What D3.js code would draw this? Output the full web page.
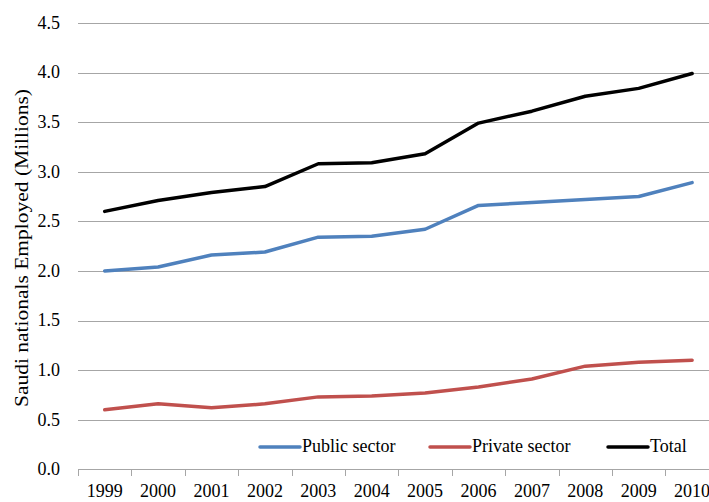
<!DOCTYPE html>
<html>
<head>
<meta charset="utf-8">
<script src="https://cdn.jsdelivr.net/npm/d3@7"></script>
<style>
  html, body { margin: 0; padding: 0; background: #fff; }
  svg { display: block; }
  text { font-family: "Liberation Serif", "DejaVu Serif", serif; fill: #000; }
</style>
</head>
<body>
<svg id="chart" width="709" height="502"></svg>
<script>
// Saudi nationals employed, millions
const years = ["1999","2000","2001","2002","2003","2004","2005","2006","2007","2008","2009","2010"];
const publicSector  = [2.00, 2.04, 2.16, 2.19, 2.34, 2.35, 2.42, 2.66, 2.69, 2.72, 2.75, 2.89];
const privateSector = [0.60, 0.66, 0.62, 0.66, 0.73, 0.74, 0.77, 0.83, 0.91, 1.04, 1.08, 1.10];
const total         = [2.60, 2.71, 2.79, 2.85, 3.08, 3.09, 3.18, 3.49, 3.61, 3.76, 3.84, 3.99];
const yTicks = [0, 0.5, 1.0, 1.5, 2.0, 2.5, 3.0, 3.5, 4.0, 4.5];
const seriesNames = ["Public sector", "Private sector", "Total"];
const seriesColors = ["#4F81BD", "#C0504D", "#000000"];

const series = [publicSector, privateSector, total].map((vals, i) => ({
  name: seriesNames[i], color: seriesColors[i], values: vals
}));

const svg = d3.select("#chart");
const plotLeft = 78, plotRight = 718.8, plotTop = 22.9, plotBottom = 469.3;

const x = d3.scaleBand().domain(years).range([plotLeft, plotRight]);
const y = d3.scaleLinear().domain([0, 4.5]).range([plotBottom, plotTop]);

// horizontal gridlines
svg.append("g")
  .selectAll("line")
  .data(yTicks.filter(d => d > 0))
  .join("line")
  .attr("x1", plotLeft).attr("x2", 709)
  .attr("y1", d => Math.round(y(d)) + 0.5).attr("y2", d => Math.round(y(d)) + 0.5)
  .attr("stroke", "#a6a6a6").attr("stroke-width", 1);

// y tick labels
svg.append("g")
  .selectAll("text")
  .data(yTicks)
  .join("text")
  .attr("x", 60)
  .attr("y", d => y(d))
  .attr("dy", "0.33em")
  .attr("text-anchor", "end")
  .attr("font-size", 18)
  .text(d => d3.format(".1f")(d));

// x axis: baseline and ticks between categories
const xAxis = svg.append("g");
xAxis.append("line")
  .attr("x1", plotLeft).attr("x2", 709)
  .attr("y1", Math.round(plotBottom) + 0.5).attr("y2", Math.round(plotBottom) + 0.5)
  .attr("stroke", "#a6a6a6");
xAxis.selectAll("line.tick")
  .data(years)
  .join("line")
  .attr("class", "tick")
  .attr("x1", d => Math.round(x(d)) + 0.5).attr("x2", d => Math.round(x(d)) + 0.5)
  .attr("y1", Math.round(plotBottom)).attr("y2", Math.round(plotBottom) + 7)
  .attr("stroke", "#a6a6a6");
xAxis.selectAll("text")
  .data(years)
  .join("text")
  .attr("x", d => x(d) + x.bandwidth() / 2)
  .attr("y", 497)
  .attr("text-anchor", "middle")
  .attr("font-size", 18)
  .text(d => d);

// y axis title
svg.append("text")
  .attr("transform", "translate(27.5,248) rotate(-90)")
  .attr("text-anchor", "middle")
  .attr("font-size", 19)
  .attr("textLength", 318)
  .attr("lengthAdjust", "spacingAndGlyphs")
  .text("Saudi nationals Employed (Millions)");

// series lines
const line = d3.line()
  .x((d, i) => x(years[i]) + x.bandwidth() / 2)
  .y(d => y(d));

svg.append("g")
  .selectAll("path")
  .data(series)
  .join("path")
  .attr("d", d => line(d.values))
  .attr("fill", "none")
  .attr("stroke", d => d.color)
  .attr("stroke-width", 3.5)
  .attr("stroke-linejoin", "round")
  .attr("stroke-linecap", "round");

// legend
const legendX = [260, 430, 608];
const legend = svg.append("g")
  .selectAll("g")
  .data(series)
  .join("g")
  .attr("transform", (d, i) => `translate(${legendX[i]},447)`);
legend.append("line")
  .attr("x1", 0).attr("x2", 40)
  .attr("stroke", d => d.color)
  .attr("stroke-width", 3.5)
  .attr("stroke-linecap", "round");
legend.append("text")
  .attr("x", 42)
  .attr("y", 5)
  .attr("font-size", 18)
  .text(d => d.name);
</script>
</body>
</html>
